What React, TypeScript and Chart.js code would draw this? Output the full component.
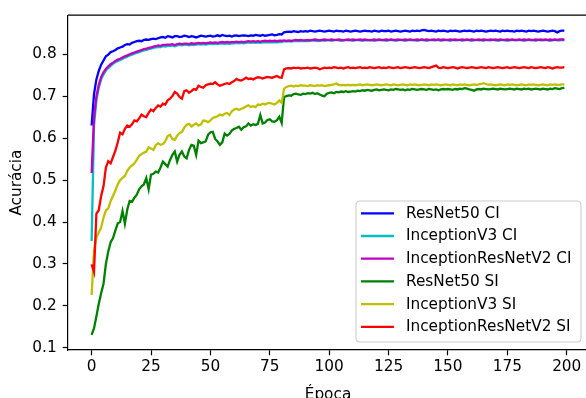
import React, { useEffect, useRef } from "react";
import { Chart, registerables } from "chart.js";
Chart.register(...registerables);

const epochs: number[] = Array.from({ length: 200 }, (_, i) => i);
const xTicks = [0, 25, 50, 75, 100, 125, 150, 175, 200];
const yTicks = [0.1, 0.2, 0.3, 0.4, 0.5, 0.6, 0.7, 0.8];

const resnet50CI = [
  .630,.705,.740,.760,.775,.785,.795,.799,.805,.807,
  .810,.814,.816,.818,.822,.824,.823,.827,.829,.831,
  .832,.831,.834,.835,.834,.836,.837,.836,.838,.840,
  .841,.839,.843,.842,.840,.843,.843,.841,.842,.844,
  .843,.841,.843,.842,.840,.842,.844,.843,.842,.843,
  .844,.842,.843,.845,.843,.846,.844,.843,.844,.842,
  .844,.845,.843,.844,.845,.844,.843,.845,.844,.846,
  .845,.844,.846,.844,.845,.846,.847,.845,.846,.848,
  .847,.852,.853,.854,.853,.855,.854,.853,.855,.854,
  .855,.854,.856,.855,.854,.855,.856,.855,.854,.855,
  .856,.855,.854,.856,.855,.855,.854,.856,.855,.854,
  .855,.856,.855,.854,.855,.856,.855,.855,.854,.856,
  .855,.854,.856,.855,.855,.856,.854,.855,.856,.855,
  .854,.855,.856,.855,.854,.856,.855,.856,.855,.857,
  .858,.856,.855,.856,.855,.854,.856,.855,.856,.855,
  .854,.856,.855,.856,.855,.854,.855,.856,.855,.856,
  .855,.854,.856,.855,.856,.855,.854,.855,.856,.855,
  .856,.855,.854,.856,.855,.856,.855,.855,.854,.856,
  .855,.856,.855,.854,.856,.855,.856,.855,.854,.855,
  .856,.855,.854,.855,.856,.855,.852,.855,.856,.856,
];

const inceptionV3CI = [
  .355,.630,.690,.720,.740,.752,.761,.767,.772,.777,
  .781,.784,.786,.789,.792,.794,.797,.799,.801,.803,
  .805,.807,.809,.810,.812,.813,.815,.816,.817,.817,
  .819,.818,.820,.820,.821,.819,.821,.822,.821,.822,
  .822,.821,.823,.822,.823,.824,.823,.824,.823,.824,
  .825,.824,.825,.824,.825,.826,.825,.826,.825,.826,
  .826,.827,.826,.827,.826,.827,.828,.827,.828,.827,
  .828,.827,.828,.829,.828,.829,.828,.829,.828,.829,
  .829,.831,.830,.831,.830,.831,.832,.831,.832,.831,
  .832,.831,.832,.833,.832,.831,.832,.833,.832,.833,
  .833,.832,.833,.834,.833,.832,.833,.834,.833,.833,
  .832,.833,.834,.833,.832,.833,.833,.834,.833,.832,
  .833,.834,.833,.833,.832,.833,.834,.833,.832,.833,
  .834,.833,.832,.833,.834,.833,.833,.832,.833,.834,
  .833,.832,.833,.834,.833,.833,.834,.832,.833,.834,
  .833,.832,.834,.833,.833,.834,.832,.833,.834,.833,
  .832,.833,.834,.833,.833,.832,.834,.833,.833,.834,
  .833,.832,.833,.834,.833,.832,.833,.834,.833,.833,
  .834,.833,.832,.833,.834,.833,.833,.832,.834,.833,
  .833,.834,.833,.832,.833,.834,.833,.833,.834,.833,
];

const inceptionResNetV2CI = [
  .517,.650,.700,.727,.745,.757,.765,.771,.776,.780,
  .784,.787,.789,.792,.795,.797,.800,.802,.804,.806,
  .808,.810,.812,.813,.815,.816,.818,.819,.821,.820,
  .822,.822,.823,.823,.824,.822,.824,.825,.824,.825,
  .825,.824,.826,.825,.826,.827,.826,.827,.826,.827,
  .828,.827,.828,.827,.828,.829,.828,.829,.828,.829,
  .829,.830,.829,.830,.829,.830,.831,.830,.831,.830,
  .831,.830,.831,.832,.831,.832,.831,.832,.831,.832,
  .832,.833,.832,.833,.832,.833,.834,.833,.834,.833,
  .833,.834,.833,.834,.835,.834,.833,.834,.835,.834,
  .834,.835,.834,.834,.835,.834,.833,.834,.835,.834,
  .835,.834,.834,.835,.834,.835,.834,.833,.834,.835,
  .834,.835,.834,.834,.835,.834,.835,.834,.834,.835,
  .834,.834,.835,.834,.835,.834,.834,.835,.834,.835,
  .834,.835,.834,.834,.835,.834,.835,.834,.835,.834,
  .834,.835,.834,.835,.834,.834,.835,.834,.835,.834,
  .835,.834,.834,.835,.834,.835,.834,.834,.835,.834,
  .835,.834,.835,.834,.834,.835,.834,.835,.834,.834,
  .835,.834,.835,.834,.835,.834,.834,.835,.834,.835,
  .834,.835,.834,.835,.834,.835,.834,.835,.835,.835,
];

const resnet50SI = [
  .131,.147,.175,.205,.230,.253,.300,.330,.352,.362,
  .380,.397,.400,.426,.396,.430,.450,.448,.458,.465,
  .478,.485,.490,.505,.478,.513,.515,.520,.518,.530,
  .544,.538,.532,.548,.560,.568,.544,.560,.568,.556,
  .552,.572,.584,.582,.560,.594,.588,.590,.592,.608,
  .614,.615,.598,.592,.584,.590,.611,.606,.610,.618,
  .622,.624,.627,.620,.626,.628,.635,.630,.633,.631,
  .634,.655,.635,.637,.643,.645,.640,.639,.643,.651,
  .636,.698,.700,.702,.701,.705,.706,.704,.703,.706,
  .705,.707,.706,.708,.705,.707,.704,.701,.700,.706,
  .708,.709,.707,.710,.709,.711,.710,.712,.710,.711,
  .712,.711,.713,.712,.714,.713,.715,.714,.713,.715,
  .716,.714,.715,.716,.715,.714,.716,.715,.717,.716,
  .715,.716,.714,.716,.715,.717,.716,.715,.716,.717,
  .716,.715,.717,.716,.715,.716,.714,.716,.717,.716,
  .717,.716,.715,.717,.716,.718,.717,.719,.718,.716,
  .715,.713,.716,.717,.716,.718,.717,.716,.717,.718,
  .717,.716,.718,.717,.716,.717,.718,.717,.716,.718,
  .717,.716,.718,.717,.718,.716,.717,.718,.717,.716,
  .718,.717,.716,.718,.717,.719,.718,.717,.719,.720,
];

const inceptionV3SI = [
  .226,.332,.363,.375,.387,.410,.428,.432,.450,.462,
  .475,.490,.500,.505,.510,.522,.530,.535,.540,.548,
  .558,.562,.565,.568,.578,.575,.572,.583,.588,.584,
  .586,.592,.605,.608,.598,.596,.606,.612,.615,.625,
  .632,.634,.628,.632,.635,.630,.633,.642,.641,.638,
  .642,.648,.650,.652,.656,.654,.658,.660,.655,.664,
  .668,.670,.667,.670,.672,.676,.678,.674,.676,.674,
  .680,.679,.682,.680,.683,.684,.682,.680,.684,.690,
  .684,.718,.722,.724,.725,.723,.725,.724,.726,.725,
  .725,.724,.726,.725,.724,.726,.725,.726,.724,.725,
  .726,.727,.728,.730,.727,.726,.727,.726,.727,.726,
  .727,.726,.727,.728,.726,.727,.728,.727,.726,.727,
  .728,.727,.726,.727,.728,.727,.726,.728,.727,.726,
  .727,.728,.727,.726,.728,.727,.728,.727,.726,.727,
  .728,.727,.726,.728,.727,.728,.727,.726,.727,.728,
  .727,.726,.728,.727,.726,.728,.727,.728,.727,.726,
  .727,.728,.727,.728,.729,.731,.729,.727,.728,.727,
  .726,.727,.728,.727,.726,.728,.727,.728,.727,.726,
  .727,.728,.727,.726,.728,.727,.728,.727,.726,.727,
  .728,.727,.726,.728,.727,.728,.727,.727,.728,.728,
];

const inceptionResNetV2SI = [
  .299,.281,.420,.428,.462,.485,.530,.545,.540,.555,
  .570,.590,.613,.609,.622,.630,.627,.633,.642,.640,
  .647,.656,.652,.650,.660,.668,.664,.672,.678,.675,
  .682,.680,.690,.694,.700,.710,.706,.698,.694,.712,
  .714,.708,.712,.717,.715,.725,.722,.720,.726,.728,
  .730,.729,.733,.728,.725,.727,.729,.731,.729,.733,
  .736,.741,.738,.737,.740,.744,.741,.742,.740,.743,
  .745,.744,.742,.744,.746,.745,.744,.746,.748,.745,
  .744,.764,.766,.767,.766,.768,.767,.768,.766,.767,
  .767,.768,.766,.767,.768,.767,.764,.766,.768,.767,
  .768,.767,.769,.768,.767,.768,.766,.768,.769,.767,
  .768,.767,.768,.769,.767,.768,.767,.769,.768,.767,
  .768,.769,.767,.768,.767,.769,.768,.767,.768,.769,
  .767,.768,.769,.768,.767,.768,.769,.768,.767,.768,
  .769,.768,.767,.769,.771,.773,.768,.767,.769,.768,
  .767,.768,.769,.768,.766,.768,.769,.768,.767,.768,
  .769,.768,.767,.768,.769,.768,.767,.769,.768,.767,
  .768,.769,.768,.767,.768,.769,.767,.768,.769,.768,
  .767,.768,.769,.768,.767,.769,.768,.767,.768,.769,
  .768,.767,.769,.768,.766,.768,.769,.768,.768,.769,
];

const seriesNames = [
  "ResNet50 CI",
  "InceptionV3 CI",
  "InceptionResNetV2 CI",
  "ResNet50 SI",
  "InceptionV3 SI",
  "InceptionResNetV2 SI",
];
const seriesValues = [resnet50CI, inceptionV3CI, inceptionResNetV2CI, resnet50SI, inceptionV3SI, inceptionResNetV2SI];
const seriesColors = ["#0000ff", "#00bfbf", "#bf00bf", "#008000", "#bfbf00", "#ff0000"];

const FONT = "'DejaVu Sans', sans-serif";
const FS = 15.3;

const framePlugin = {
  id: "frameAndLegend",
  afterDraw(chart: any) {
    const { ctx, chartArea } = chart;
    ctx.save();
    ctx.strokeStyle = "#000";
    ctx.lineWidth = 1.2;
    ctx.beginPath();
    ctx.moveTo(chartArea.left, chartArea.top);
    ctx.lineTo(chartArea.right, chartArea.top);
    ctx.lineTo(chartArea.right, chartArea.bottom);
    ctx.stroke();

    const bx = 356, by = 201, bw = 225, bh = 141, r = 4;
    ctx.beginPath();
    ctx.moveTo(bx + r, by);
    ctx.lineTo(bx + bw - r, by);
    ctx.quadraticCurveTo(bx + bw, by, bx + bw, by + r);
    ctx.lineTo(bx + bw, by + bh - r);
    ctx.quadraticCurveTo(bx + bw, by + bh, bx + bw - r, by + bh);
    ctx.lineTo(bx + r, by + bh);
    ctx.quadraticCurveTo(bx, by + bh, bx, by + bh - r);
    ctx.lineTo(bx, by + r);
    ctx.quadraticCurveTo(bx, by, bx + r, by);
    ctx.closePath();
    ctx.fillStyle = "rgba(255,255,255,0.8)";
    ctx.fill();
    ctx.strokeStyle = "#cccccc";
    ctx.lineWidth = 1.1;
    ctx.stroke();

    ctx.font = `${FS}px ${FONT}`;
    ctx.textBaseline = "middle";
    ctx.textAlign = "left";
    for (let i = 0; i < seriesNames.length; i++) {
      const cy = 213.3 + i * 22.7;
      ctx.strokeStyle = seriesColors[i];
      ctx.lineWidth = 2.3;
      ctx.beginPath();
      ctx.moveTo(361, cy);
      ctx.lineTo(394, cy);
      ctx.stroke();
      ctx.fillStyle = "#000";
      ctx.fillText(seriesNames[i], 406, cy + 0.5);
    }
    ctx.restore();
  },
};

export default function App() {
  const ref = useRef<HTMLCanvasElement | null>(null);
  useEffect(() => {
    if (!ref.current) return;
    const chart = new Chart(ref.current, {
      type: "line",
      data: {
        datasets: seriesValues.map((vals, i) => ({
          label: seriesNames[i],
          data: vals.map((v, j) => ({ x: epochs[j], y: v })),
          borderColor: seriesColors[i],
          backgroundColor: seriesColors[i],
          borderWidth: 2.3,
          pointRadius: 0,
          tension: 0,
          fill: false,
          order: seriesValues.length - 1 - i,
        })),
      },
      options: {
        animation: false,
        responsive: false,
        devicePixelRatio: 1,
        layout: { padding: { left: 0, top: 12, right: 6, bottom: 0 } },
        plugins: { legend: { display: false }, tooltip: { enabled: false } },
        scales: {
          x: {
            type: "linear",
            min: -9.95,
            max: 208.95,
            afterFit: (s: any) => { s.height = 48; },
            afterBuildTicks: (s: any) => { s.ticks = xTicks.map((v) => ({ value: v })); },
            ticks: {
              color: "#000",
              font: { family: FONT, size: FS },
              padding: 3,
              maxRotation: 0,
              autoSkip: false,
              callback: (v: any) => String(v),
            },
            grid: { display: true, drawOnChartArea: false, drawTicks: true, tickLength: 5.3, tickColor: "#000", tickWidth: 1.2, color: "#000" },
            border: { display: true, color: "#000", width: 1.2 },
            title: { display: true, text: "Época", color: "#000", font: { family: FONT, size: FS }, padding: { top: 0, bottom: -6 } },
          },
          y: {
            type: "linear",
            min: 0.095,
            max: 0.893,
            afterFit: (s: any) => { s.width = 68; },
            afterBuildTicks: (s: any) => { s.ticks = yTicks.map((v) => ({ value: v })); },
            ticks: {
              color: "#000",
              font: { family: FONT, size: FS },
              padding: 6,
              autoSkip: false,
              callback: (v: any) => Number(v).toFixed(1),
            },
            grid: { display: true, drawOnChartArea: false, drawTicks: true, tickLength: 5.3, tickColor: "#000", tickWidth: 1.2, color: "#000" },
            border: { display: true, color: "#000", width: 1.2 },
            title: { display: true, text: "Acurácia", color: "#000", font: { family: FONT, size: FS }, padding: { top: 8, bottom: 0 } },
          },
        },
      },
      plugins: [framePlugin],
    });
    return () => chart.destroy();
  }, []);
  return (
    <div style={{ position: "absolute", left: 0, top: 0, width: 586, height: 398, overflow: "hidden", background: "#fff" }}>
      <canvas ref={ref} width={594} height={398} style={{ display: "block", width: 594, height: 398 }} />
    </div>
  );
}
